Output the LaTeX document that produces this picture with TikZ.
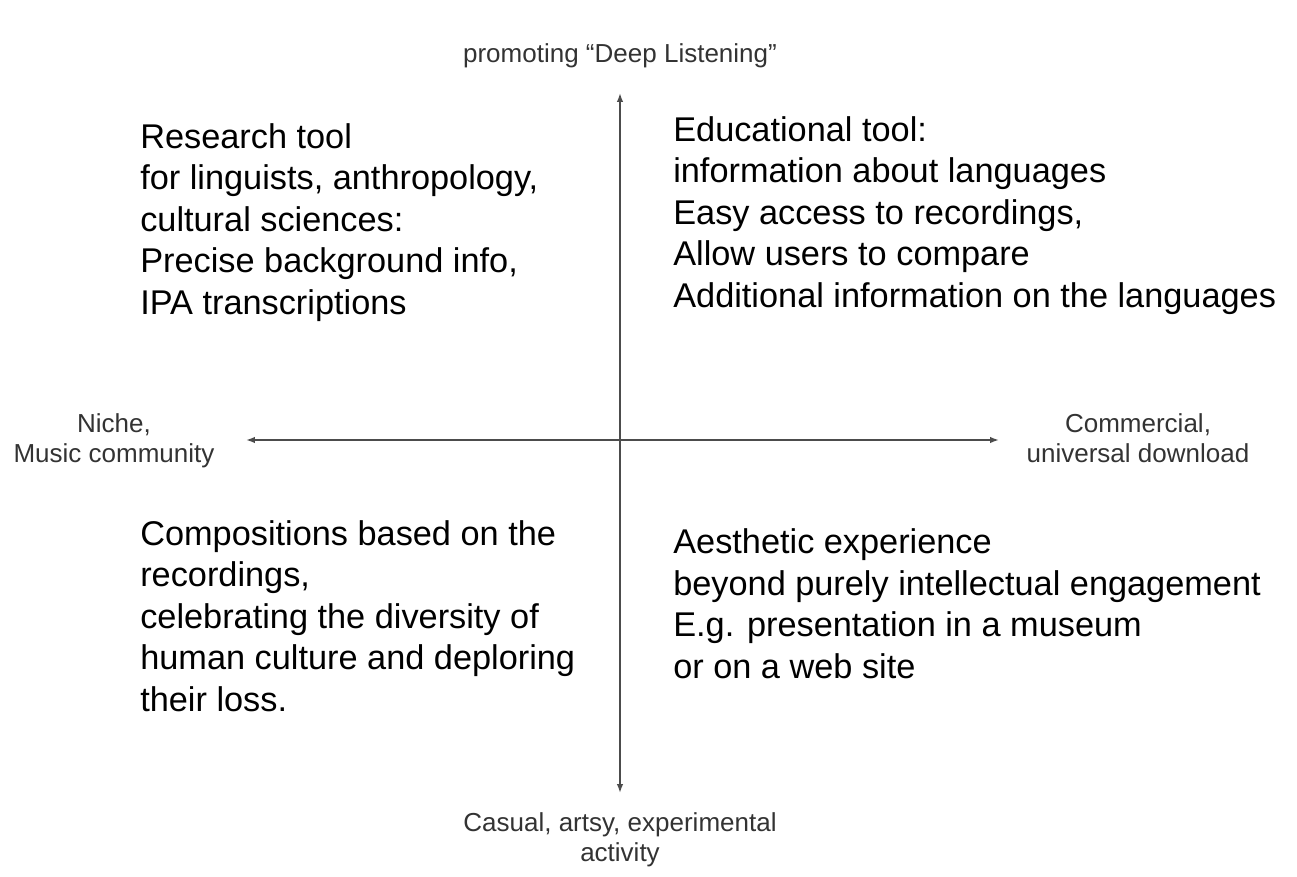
\documentclass[tikz,border=0pt]{standalone}
\usepackage{fontspec}
\setmainfont{Liberation Sans}
\usetikzlibrary{arrows.meta}
\tikzset{
  big/.style={anchor=base west,align=left,inner sep=0pt,text=black,
    font=\fontsize{24.4}{29.5}\selectfont},
  small/.style={anchor=base,align=center,inner sep=0pt,text=black!80,
    font=\fontsize{18.5}{21.1}\selectfont},
  axis/.style={draw=black!70,line width=1.3pt,{Latex[length=2.2mm,width=1.6mm]}-{Latex[length=2.2mm,width=1.6mm]}}
}
\begin{document}
\begin{tikzpicture}[x=0.025cm,y=-0.025cm]
      \useasboundingbox (0,0) rectangle (1297,876);
      \draw
        (620,62) node[small] (top){promoting “Deep Listening”}
        (114,462) node[small] (left){Niche,\\Music community}
        (1138,462) node[small] (right){Commercial,\\universal download}
        (620,861) node[small] (bottom){Casual, artsy, experimental\\activity};
      \draw
        (140,314) node[big] (q1){Research tool\\for linguists, anthropology,\\cultural sciences:\\Precise background info,\\IPA transcriptions}
        (673,307) node[big] (q2){Educational tool:\\information about languages\\Easy access to recordings,\\Allow users to compare\\Additional information on the languages}
        (140,711) node[big] (q3){Compositions based on the\\recordings,\\celebrating the diversity of\\human culture and deploring\\their loss.}
        (673,678) node[big] (q4){Aesthetic experience\\beyond purely intellectual engagement\\E.g. presentation in a museum\\or on a web site};
      \coordinate (n) at (620,93);
      \coordinate (s) at (620,793);
      \coordinate (w) at (246,440);
      \coordinate (e) at (999,440);
      \begin{scope}[axis]
        \draw (s) to (n);
        \draw (w) to (e);
      \end{scope}
    \end{tikzpicture}
\end{document}
